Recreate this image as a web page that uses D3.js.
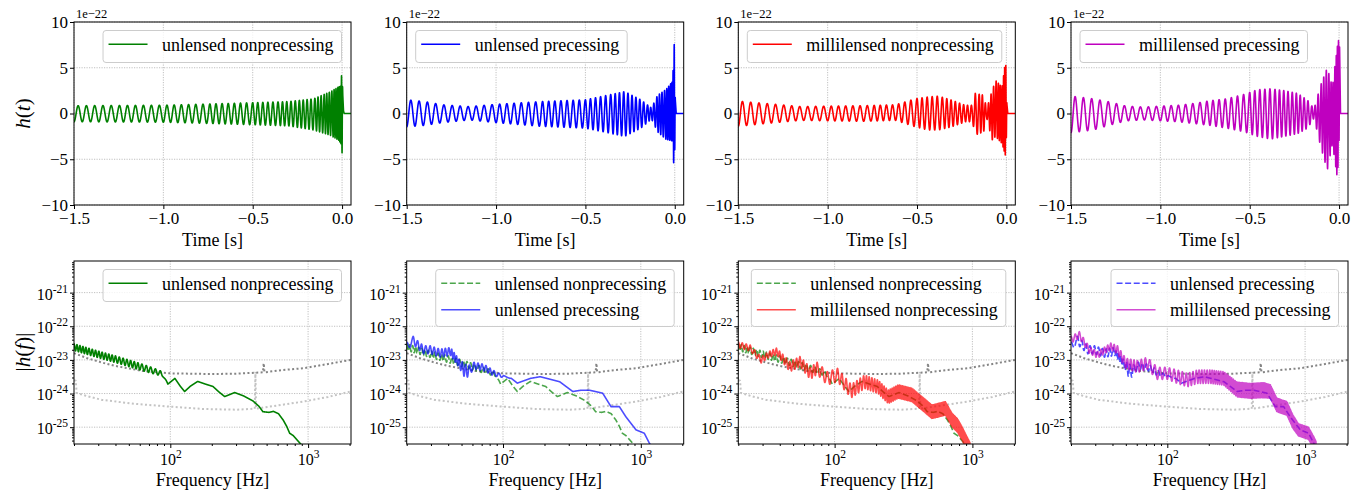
<!DOCTYPE html>
<html>
<head>
<meta charset="utf-8">
<script src="https://cdn.jsdelivr.net/npm/d3@7"></script>
<style>
body{margin:0;background:#fff;}
svg text{font-family:"Liberation Serif","Times New Roman",serif;fill:#000;}
</style>
</head>
<body>
<svg id="fig" width="1360" height="496"></svg>
<script>
// ---------- time domain, strain in units of 1e-22 ----------
var chirpT=[-1.5,-1.25,-1.0,-0.75,-0.5,-0.35,-0.25,-0.15,-0.1,-0.05,-0.02,0,0.003,0.05];
var chirpN=[0,5.4,11,17.2,24.5,29.8,34,38.6,41.5,45,47.8,51,51.5,52];

var nonprecT =[-1.5,-1.0,-0.63,-0.3,-0.16,-0.067,-0.02,-0.006,0.0,0.004,0.008,0.012,0.05];
var nonprecHi=[0.85,0.9,1.1,1.3,1.6,2.35,2.9,3.0,5.3,2.0,0.3,0,0];
var nonprecLo=[-0.9,-0.95,-1.15,-1.35,-1.8,-2.36,-2.9,-3.3,-4.3,-1.5,-0.2,0,0];

var precT =[-1.5,-1.4,-1.3,-1.15,-1.0,-0.75,-0.5,-0.375,-0.28,-0.19,-0.13,-0.096,-0.05,-0.012,-0.003,0.003,0.008,0.05];
var precHi=[1.5,1.3,0.95,0.75,1.0,1.3,1.5,2.0,2.4,1.5,0.6,2.0,2.6,3.5,7.6,1.5,0,0];
var precLo=[-1.45,-1.3,-1.0,-0.7,-1.0,-1.4,-1.6,-2.1,-2.5,-1.6,-0.6,-2.0,-2.8,-3.0,-6.7,-1.0,0,0];

var mlNonprecT =[-1.5,-1.35,-1.15,-1.0,-0.8,-0.62,-0.51,-0.44,-0.38,-0.305,-0.23,-0.19,-0.174,-0.127,-0.11,-0.08,-0.06,-0.024,-0.004,0.003,0.008,0.05];
var mlNonprecHi=[1.35,1.1,0.75,0.8,0.85,0.95,1.6,1.8,1.9,1.45,0.9,0.9,2.2,2.0,0.5,2.5,3.6,2.9,5.8,1.0,0,0];
var mlNonprecLo=[-1.4,-1.1,-0.75,-0.8,-0.85,-0.75,-1.45,-1.8,-1.8,-1.45,-0.9,-0.9,-2.35,-2.0,-0.5,-2.9,-2.5,-3.3,-4.7,-1.0,0,0];

var mlPrecT =[-1.5,-1.375,-1.28,-1.19,-1.09,-1.0,-0.9,-0.81,-0.72,-0.63,-0.53,-0.457,-0.382,-0.307,-0.232,-0.176,-0.14,-0.103,-0.066,-0.037,-0.009,0.002,0.008,0.05];
var mlPrecHi=[1.9,1.6,1.25,0.8,0.7,0.8,0.9,1.1,1.4,1.6,2.1,2.6,2.7,2.5,2.2,1.45,0.5,3.1,5.0,2.9,7.4,8.5,0,0];
var mlPrecLo=[-2.1,-1.8,-1.25,-0.8,-0.7,-0.8,-0.9,-1.1,-1.3,-1.6,-2.0,-2.5,-2.8,-2.5,-2.2,-1.6,-0.5,-3.6,-6.2,-3.3,-7.2,-2.0,0,0];

// ---------- frequency domain, log10 |h(f)| ----------
var nonprecF  =[20,25,32,40,50,60,72,88,96,108,118,127,140,158,180,204,225,248,270,293,340,398,440,470,520,560,610,660,700,735,780,870,930];
var nonprecAmp=[-22.62,-22.74,-22.87,-22.98,-23.1,-23.2,-23.3,-23.42,-23.72,-23.55,-23.78,-23.94,-23.78,-23.64,-23.72,-23.79,-23.95,-24.09,-24.03,-23.97,-24.07,-24.22,-24.38,-24.54,-24.56,-24.53,-24.6,-24.79,-24.98,-25.18,-25.25,-25.47,-25.6];
var nonprecWig=[0.1,0.1,0.1,0.1,0.1,0.1,0.09,0.07,0,0,0,0,0,0,0,0,0,0,0,0,0,0,0,0,0,0,0,0,0,0,0,0,0];
var nonprecCyc=[0,4.5,9,13,16.5,19.5,22,24.5,25,25,25,25,25,25,25,25,25,25,25,25,25,25,25,25,25,25,25,25,25,25,25,25,25];

var precF  =[20,22.3,24,26.5,29.6,35,41.6,47.9,53.5,57,61.6,72.8,86,101.7,115,127,158,186,208,258,321,370,423,480,529,608,699,779,923,1060,1152,1250];
var precAmp=[-22.6,-22.42,-22.55,-22.7,-22.7,-22.8,-22.75,-23.1,-23.35,-23.3,-23.17,-23.23,-23.4,-23.5,-23.55,-23.69,-23.55,-23.5,-23.55,-23.65,-23.94,-23.9,-23.9,-23.95,-23.99,-24.39,-24.39,-24.69,-25.08,-25.18,-25.47,-25.7];
var precWig=[0.12,0.12,0.12,0.12,0.12,0.12,0.12,0.12,0.22,0.15,0.1,0.1,0.08,0.03,0,0,0,0,0,0,0,0,0,0,0,0,0,0,0,0,0,0];
var precCyc=[0,1,2,3.5,5,7.5,10.5,14,16,17,18,20.5,23,25,25.5,25.5,25.5,25.5,25.5,25.5,25.5,25.5,25.5,25.5,25.5,25.5,25.5,25.5,25.5,25.5,25.5,25.5];

var mlNonprecF  =[20,24.4,29.3,33,37.8,42,47.3,56,66.6,74.6,88.5,105,118,132,165,207,245,290,364,430,508,560,637,713,780,840,910,960];
var mlNonprecAmp=[-22.55,-22.65,-23.0,-22.85,-22.75,-22.95,-23.2,-23.05,-23.4,-23.25,-23.55,-23.45,-23.7,-23.93,-23.65,-23.8,-24.1,-23.94,-24.04,-24.29,-24.54,-24.5,-24.44,-24.79,-24.95,-25.18,-25.47,-25.65];
var mlNonprecWig=[0.09,0.09,0.09,0.09,0.1,0.12,0.15,0.15,0.18,0.18,0.2,0.2,0.2,0.2,0.2,0.2,0.2,0.2,0.2,0.2,0.2,0.2,0.2,0.2,0.2,0.2,0.2,0.2];
var mlNonprecCyc=[0,3,5.5,7.5,10,12,14,17,20,22,24,26,27.6,29.3,33.3,38.3,42.9,48.3,57.2,65.2,74.6,80.8,90.1,99.3,107.4,114.6,123,129];

var mlPrecF  =[20,23,27.1,31.2,35,38.9,43.5,49.9,60.6,71.6,84.7,100,118,140,165,206,257,321,400,500,560,624,737,817,895,1058,1160,1200];
var mlPrecAmp=[-22.4,-22.26,-22.7,-22.85,-22.72,-22.6,-22.7,-23.1,-23.2,-23.1,-23.4,-23.4,-23.5,-23.6,-23.5,-23.5,-23.55,-23.88,-23.92,-23.9,-23.94,-24.34,-24.44,-24.84,-25.08,-25.18,-25.47,-25.6];
var mlPrecWig=[0.1,0.1,0.1,0.1,0.1,0.1,0.12,0.15,0.18,0.18,0.18,0.18,0.2,0.2,0.2,0.2,0.2,0.22,0.22,0.22,0.2,0.2,0.2,0.2,0.18,0.18,0.18,0.18];
var mlPrecCyc=[0,2,4.5,7,9,11,13,15.5,19,21.5,23.5,25.5,27.7,30.3,33.3,38.3,44.4,52.2,61.7,73.8,81,88.7,102.3,112,121.4,141,153.3,158];

// detector sensitivity curves (log10)
var noiseHiF  =[20,25,32,40,63,100,200,300,420,470,476,482,525,660,920,1400,2048];
var noiseHiAmp=[-22.8,-22.95,-23.08,-23.18,-23.33,-23.4,-23.42,-23.41,-23.38,-23.37,-23.1,-23.37,-23.35,-23.3,-23.25,-23.12,-23.0];
var noiseLoF  =[20,20.6,20.9,25,32,56.6,100,174,300,410,414.5,419,525,920,1400,2048];
var noiseLoAmp=[-23.6,-23.62,-23.98,-24.08,-24.19,-24.31,-24.39,-24.46,-24.48,-24.45,-23.35,-24.45,-24.39,-24.24,-24.1,-23.94];

var timeTicks=[-1.5,-1.0,-0.5,0.0], strainTicks=[-10,-5,0,5,10];
var freqTicks=[100,1000], ampTicks=[-25,-24,-23,-22,-21];
var names=["unlensed nonprecessing","unlensed precessing","millilensed nonprecessing","millilensed precessing"];
var colors=["#008000","#0000ff","#ff0000","#bf00bf"];

var svg=d3.select("#fig");
svg.append("rect").attr("width",1360).attr("height",496).attr("fill","#fff");
var lefts=[74,406.7,738.3,1071],W=277,topA=[22,205],botA=[261,444];

function timeSeries(tk,hi,lo){
    var sHi=d3.scaleLinear().domain(tk).range(hi).clamp(true),
        sLo=d3.scaleLinear().domain(tk).range(lo).clamp(true),
        sN=d3.scaleLinear().domain(chirpT).range(chirpN).clamp(true);
    return d3.range(-1.5,0.05,0.0002).map(function(t){
        var a=sHi(t),b=sLo(t);
        return [t,(a+b)/2-(a-b)/2*Math.cos(2*Math.PI*sN(t))];
    });
}
function freqSeries(fk,amp,wig,cyc){
    var lf=fk.map(Math.log10);
    var sA=d3.scaleLinear().domain(lf).range(amp).clamp(true),
        sW=d3.scaleLinear().domain(lf).range(wig).clamp(true),
        sC=d3.scaleLinear().domain(lf).range(cyc).clamp(true);
    var l0=lf[0],l1=lf[lf.length-1],n=5000;
    return d3.range(n+1).map(function(i){
        var l=l0+(l1-l0)*i/n;
        return [Math.pow(10,l),Math.pow(10,sA(l)+sW(l)*Math.cos(2*Math.PI*sC(l)))];
    });
}
function plainCurve(fk,amp){
    return fk.map(function(f,i){return [f,Math.pow(10,amp[i])];});
}

var tSeries=[timeSeries(nonprecT,nonprecHi,nonprecLo),timeSeries(precT,precHi,precLo),
             timeSeries(mlNonprecT,mlNonprecHi,mlNonprecLo),timeSeries(mlPrecT,mlPrecHi,mlPrecLo)];
var fNonprec=freqSeries(nonprecF,nonprecAmp,nonprecWig,nonprecCyc),
    fPrec=freqSeries(precF,precAmp,precWig,precCyc),
    fMlNonprec=freqSeries(mlNonprecF,mlNonprecAmp,mlNonprecWig,mlNonprecCyc),
    fMlPrec=freqSeries(mlPrecF,mlPrecAmp,mlPrecWig,mlPrecCyc);
var dashed="6,2.6";
var botSets=[
    [{d:fNonprec,c:colors[0],a:1,dash:null,label:names[0]}],
    [{d:fNonprec,c:colors[0],a:0.7,dash:dashed,label:names[0]},{d:fPrec,c:colors[1],a:0.7,dash:null,label:names[1]}],
    [{d:fNonprec,c:colors[0],a:0.7,dash:dashed,label:names[0]},{d:fMlNonprec,c:colors[2],a:0.7,dash:null,label:names[2]}],
    [{d:fPrec,c:colors[1],a:0.7,dash:dashed,label:names[1]},{d:fMlPrec,c:colors[3],a:0.7,dash:null,label:names[3]}]
];

function legend(g,items,side,left,right,top){
    var lg=g.append("g"),box=lg.append("rect"),w=0;
    items.forEach(function(it,i){
        var cy=top+8.5+13.7+26.6*i;
        lg.append("line").attr("x1",5.5).attr("x2",44.5).attr("y1",cy).attr("y2",cy)
          .attr("stroke",it.c).attr("stroke-width",1.6).attr("stroke-opacity",it.a)
          .attr("stroke-dasharray",it.dash);
        var t=lg.append("text").attr("x",59).attr("y",cy+6.5).attr("font-size",18).text(it.label);
        w=Math.max(w,t.node().getComputedTextLength());
    });
    var bw=59+w+8,bh=items.length==1?32:57;
    var bx=side=="left"?left+9:right-9.5-bw;
    box.attr("x",0).attr("y",top+8.5).attr("width",bw).attr("height",bh).attr("rx",3)
       .attr("fill","#fff").attr("fill-opacity",0.8).attr("stroke","#cccccc").attr("stroke-width",1);
    lg.attr("transform","translate("+bx+",0)");
}
function gridStyle(sel){
    sel.attr("stroke","#b0b0b0").attr("stroke-width",0.8).attr("stroke-dasharray","1.2,1.3");
}

lefts.forEach(function(L,p){
    // ---------------- top row: h(t) ----------------
    var x=d3.scaleLinear().domain([-1.5,0.05]).range([L,L+W]);
    var y=d3.scaleLinear().domain([-10,10]).range([topA[1],topA[0]]);
    var g=svg.append("g");
    var cid="clipT"+p;
    svg.append("defs").append("clipPath").attr("id",cid).append("rect")
       .attr("x",L).attr("y",topA[0]).attr("width",W).attr("height",topA[1]-topA[0]);
    timeTicks.forEach(function(t){ gridStyle(g.append("line").attr("x1",x(t)).attr("x2",x(t)).attr("y1",topA[0]).attr("y2",topA[1])); });
    strainTicks.forEach(function(v){ gridStyle(g.append("line").attr("x1",L).attr("x2",L+W).attr("y1",y(v)).attr("y2",y(v))); });
    g.append("path").datum(tSeries[p]).attr("clip-path","url(#"+cid+")")
     .attr("fill","none").attr("stroke",colors[p]).attr("stroke-width",1.6).attr("stroke-linejoin","round")
     .attr("d",d3.line().x(function(d){return x(d[0]);}).y(function(d){return y(d[1]);}));
    legend(g,[{c:colors[p],a:1,dash:null,label:names[p]}],p==0?"right":"left",L,L+W,topA[0]);
    g.append("rect").attr("x",L).attr("y",topA[0]).attr("width",W).attr("height",topA[1]-topA[0])
     .attr("fill","none").attr("stroke","#000").attr("stroke-width",1);
    var ax=g.append("g").attr("transform","translate(0,"+topA[1]+")")
        .call(d3.axisBottom(x).tickValues(timeTicks).tickSize(4).tickSizeOuter(0).tickPadding(3).tickFormat(d3.format(".1f")));
    var ay=g.append("g").attr("transform","translate("+L+",0)")
        .call(d3.axisLeft(y).tickValues(strainTicks).tickSize(4).tickSizeOuter(0).tickPadding(2).tickFormat(d3.format("d")));
    [ax,ay].forEach(function(a){
        a.select(".domain").remove();
        a.selectAll("text").attr("font-size",17).attr("font-family","Liberation Serif");
    });
    g.append("text").attr("x",L+2).attr("y",18.3).attr("font-size",12.5).text("1e\u221222");
    g.append("text").attr("x",L+W/2).attr("y",246).attr("text-anchor","middle").attr("font-size",18).text("Time [s]");

    // ---------------- bottom row: |h(f)| ----------------
    var fx=d3.scaleLog().domain([20,2048]).range([L,L+W]);
    var fy=d3.scaleLog().domain([Math.pow(10,-25.5),Math.pow(10,-20.06)]).range([botA[1],botA[0]]);
    var gb=svg.append("g");
    var cidb="clipB"+p;
    svg.append("defs").append("clipPath").attr("id",cidb).append("rect")
       .attr("x",L).attr("y",botA[0]).attr("width",W).attr("height",botA[1]-botA[0]);
    freqTicks.forEach(function(f){ gridStyle(gb.append("line").attr("x1",fx(f)).attr("x2",fx(f)).attr("y1",botA[0]).attr("y2",botA[1])); });
    ampTicks.forEach(function(e){ gridStyle(gb.append("line").attr("x1",L).attr("x2",L+W).attr("y1",fy(Math.pow(10,e))).attr("y2",fy(Math.pow(10,e)))); });
    var fline=d3.line().x(function(d){return fx(d[0]);}).y(function(d){return fy(d[1]);});
    var dataG=gb.append("g").attr("clip-path","url(#"+cidb+")");
    dataG.append("path").datum(plainCurve(noiseLoF,noiseLoAmp)).attr("fill","none").attr("stroke","#c4c4c4")
         .attr("stroke-width",2).attr("stroke-dasharray","2,2.4").attr("d",fline);
    dataG.append("path").datum(plainCurve(noiseHiF,noiseHiAmp)).attr("fill","none").attr("stroke","#858585")
         .attr("stroke-width",2).attr("stroke-dasharray","2,2.4").attr("d",fline);
    botSets[p].forEach(function(s){
        dataG.append("path").datum(s.d).attr("fill","none").attr("stroke",s.c).attr("stroke-opacity",s.a)
             .attr("stroke-width",1.6).attr("stroke-linejoin","round").attr("stroke-dasharray",s.dash).attr("d",fline);
    });
    legend(gb,botSets[p],"right",L,L+W,botA[0]);
    gb.append("rect").attr("x",L).attr("y",botA[0]).attr("width",W).attr("height",botA[1]-botA[0])
      .attr("fill","none").attr("stroke","#000").attr("stroke-width",1);
    var minorF=[20,30,40,50,60,70,80,90,200,300,400,500,600,700,800,900,2000];
    var minorA=[];
    d3.range(-26,-20).forEach(function(e){ d3.range(2,10).forEach(function(k){
        var v=k*Math.pow(10,e); if(v>=fy.domain()[0]&&v<=fy.domain()[1]) minorA.push(v); }); });
    var bx=gb.append("g").attr("transform","translate(0,"+botA[1]+")")
        .call(d3.axisBottom(fx).tickValues(freqTicks).tickSize(4).tickSizeOuter(0).tickPadding(3).tickFormat(function(){return "";}));
    gb.append("g").attr("transform","translate(0,"+botA[1]+")")
        .call(d3.axisBottom(fx).tickValues(minorF).tickSize(2).tickSizeOuter(0).tickFormat(function(){return "";}))
        .select(".domain").remove();
    var by=gb.append("g").attr("transform","translate("+L+",0)")
        .call(d3.axisLeft(fy).tickValues(ampTicks.map(function(e){return Math.pow(10,e);})).tickSize(4).tickSizeOuter(0).tickPadding(2).tickFormat(function(){return "";}));
    gb.append("g").attr("transform","translate("+L+",0)")
        .call(d3.axisLeft(fy).tickValues(minorA).tickSize(2).tickSizeOuter(0).tickFormat(function(){return "";}))
        .select(".domain").remove();
    bx.select(".domain").remove(); by.select(".domain").remove();
    bx.selectAll(".tick text").each(function(d){
        var t=d3.select(this).attr("font-size",16).attr("font-family","Liberation Serif").attr("dy","0.9em");
        t.append("tspan").text("10");
        t.append("tspan").attr("font-size",11.5).attr("dy",-7).text(String(Math.round(Math.log10(d))));
    });
    by.selectAll(".tick text").each(function(d){
        var t=d3.select(this).attr("font-size",16).attr("font-family","Liberation Serif").attr("dy","0.4em");
        t.append("tspan").text("10");
        t.append("tspan").attr("font-size",11.5).attr("dy",-7).text("-"+Math.abs(Math.round(Math.log10(d))));
    });
    gb.append("text").attr("x",L+W/2).attr("y",486).attr("text-anchor","middle").attr("font-size",18).text("Frequency [Hz]");
});

// y-axis labels
var yl1=svg.append("text").attr("transform","translate(29.5,113.5) rotate(-90)").attr("text-anchor","middle").attr("font-size",21);
yl1.append("tspan").attr("font-style","italic").text("h");
yl1.append("tspan").text("(");
yl1.append("tspan").attr("font-style","italic").text("t");
yl1.append("tspan").text(")");
var yl2=svg.append("text").attr("transform","translate(29.5,352) rotate(-90)").attr("text-anchor","middle").attr("font-size",21);
yl2.append("tspan").text("|");
yl2.append("tspan").attr("font-style","italic").text("h");
yl2.append("tspan").text("(");
yl2.append("tspan").attr("font-style","italic").text("f");
yl2.append("tspan").text(")|");
</script>
</body>
</html>
